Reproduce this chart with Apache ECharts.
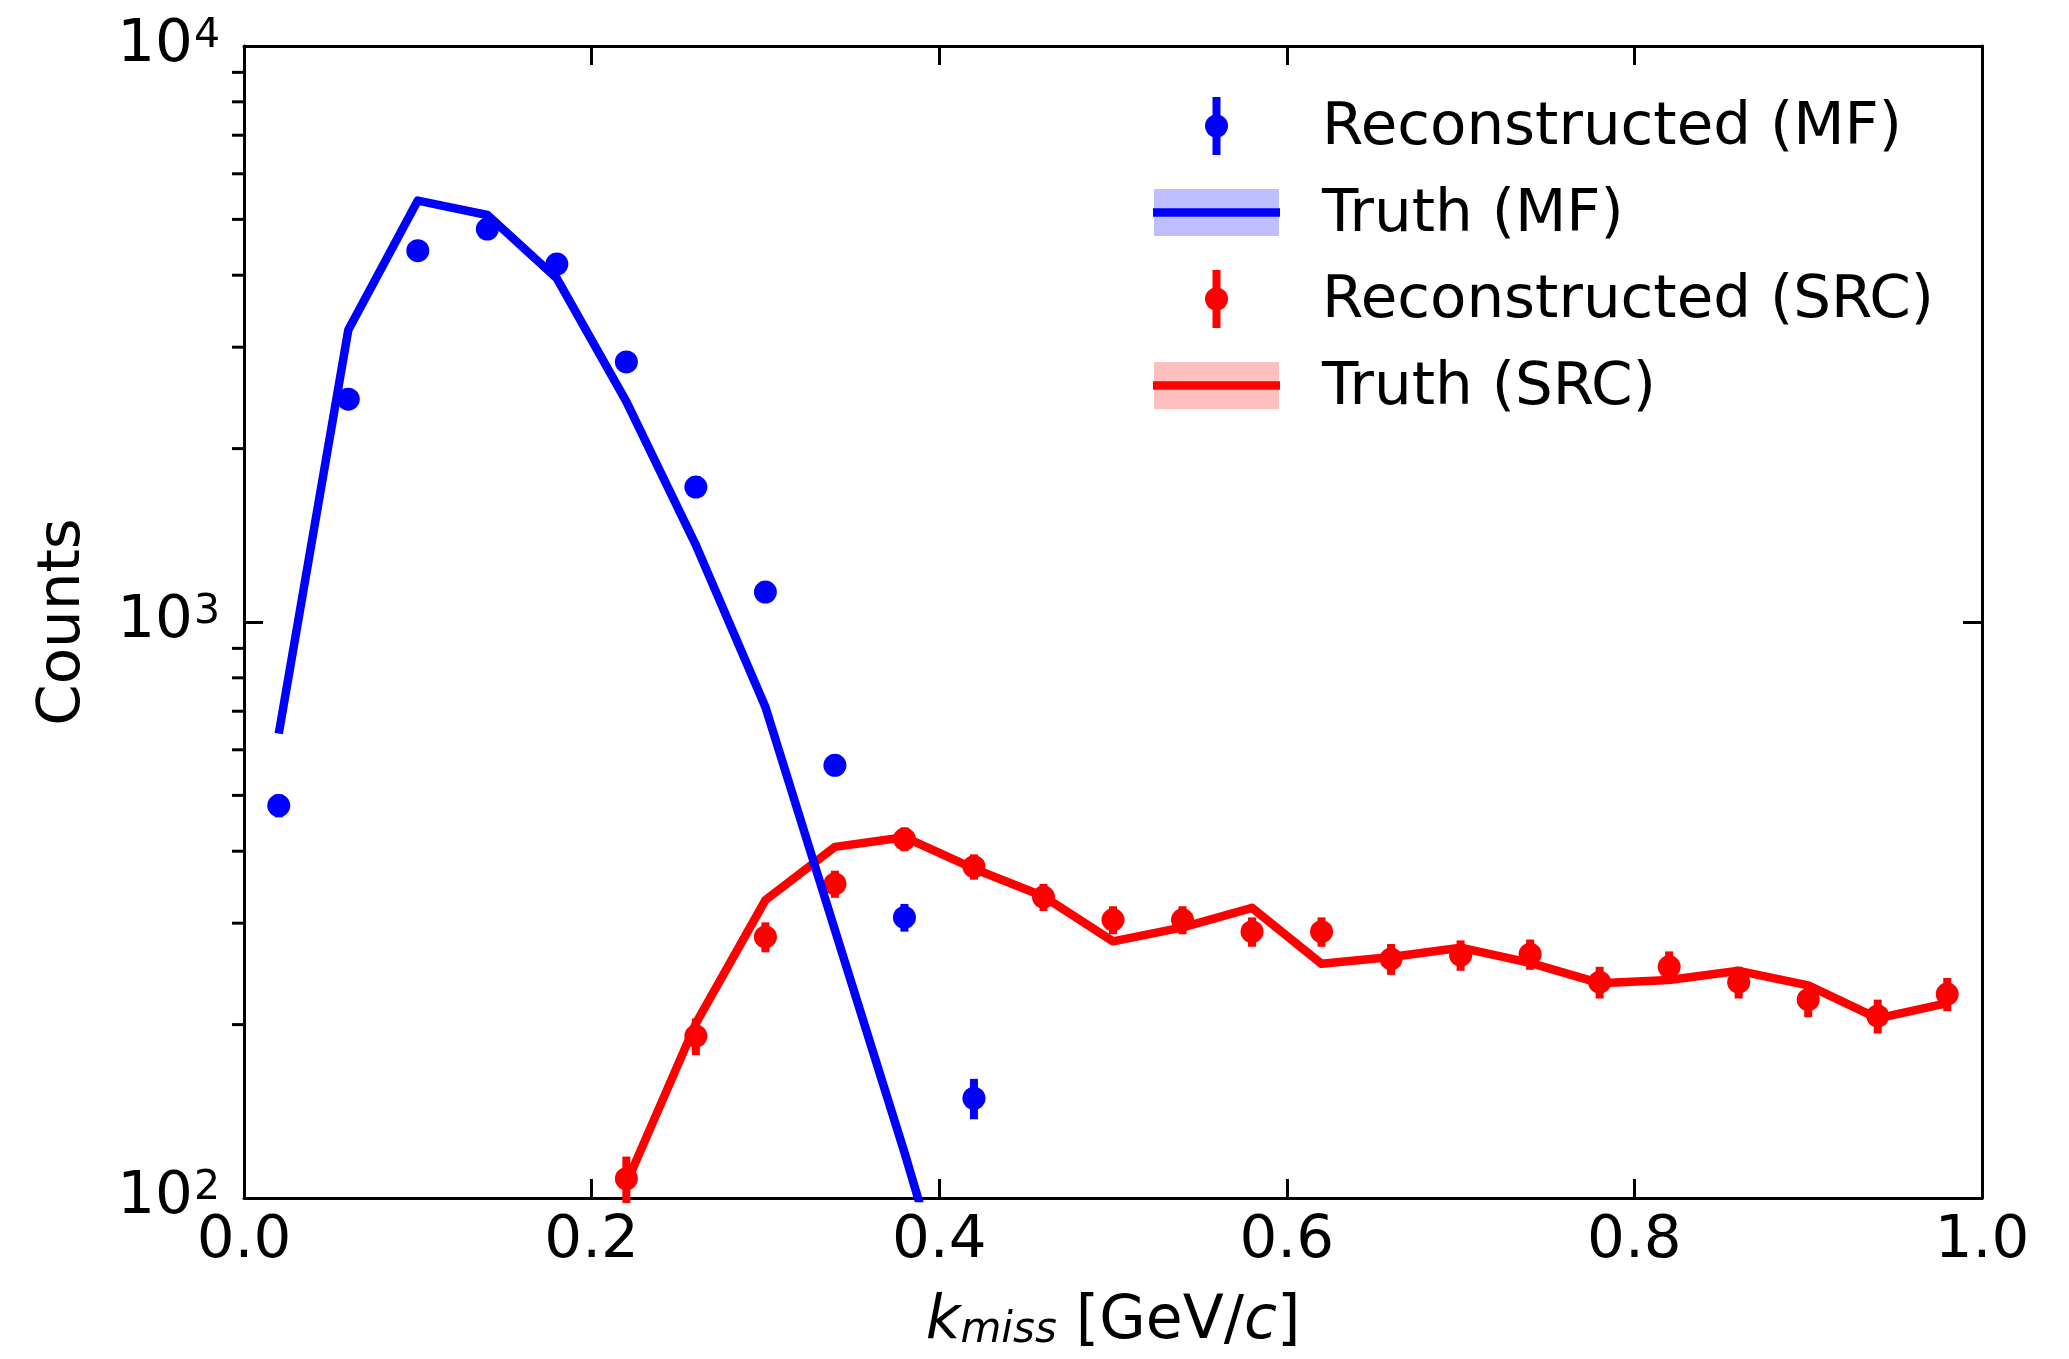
<!DOCTYPE html>
<html>
<head>
<meta charset="utf-8">
<script src="https://cdn.jsdelivr.net/npm/echarts@6/dist/echarts.min.js"></script>
<style>
html,body{margin:0;padding:0;background:#ffffff;}
#chart{width:2069px;height:1359px;}
</style>
</head>
<body>
<div id="chart"></div>
<script>
// ---- data ----
const mfX = [0.02, 0.06, 0.10, 0.14, 0.18, 0.22, 0.26, 0.30, 0.34, 0.38, 0.42];
const mfReco = [480, 2437, 4412, 4810, 4183, 2828, 1715, 1127, 564, 307, 149];
const mfRecoErr = [22, 49, 66, 69, 65, 53, 41, 34, 24, 17, 12];
const mfTruth = [640, 3213, 5390, 5089, 3951, 2413, 1360, 712, 292, 120, 47];

const srcX = [0.22, 0.26, 0.30, 0.34, 0.38, 0.42, 0.46, 0.50, 0.54, 0.58,
              0.62, 0.66, 0.70, 0.74, 0.78, 0.82, 0.86, 0.90, 0.94, 0.98];
const srcReco = [108, 191, 284, 351, 420, 376, 333, 304, 304, 290,
                 290, 260, 264, 265, 237, 252, 237, 221, 207, 226];
const srcRecoErr = [10, 14, 17, 19, 20, 19, 18, 17, 17, 17,
                    17, 16, 16, 16, 15, 16, 15, 15, 14, 15];
const srcTruth = [106, 201, 329, 407, 423, 373, 334, 279, 295, 319,
                  255, 262, 272, 256, 236, 239, 248, 234, 205, 218];

const xTicks = [0.0, 0.2, 0.4, 0.6, 0.8, 1.0];
const yMinorTicks = [200, 300, 400, 500, 600, 700, 800, 900,
                     2000, 3000, 4000, 5000, 6000, 7000, 8000, 9000];
const legendNames = ['Reconstructed (MF)', 'Truth (MF)', 'Reconstructed (SRC)', 'Truth (SRC)'];

// ---- build ----
const BLUE = '#0000ff', RED = '#ff0000';
const FONT = 'DejaVu Sans';
const FS = 59.5;
const FS_SMALL = 41;
const LW = 8.5;

const zip = (xs, ys) => xs.map((x, i) => [x, ys[i]]);
const zip3 = (xs, ys, es) => xs.map((x, i) => [x, ys[i], es[i]]);

function errRender(color) {
  return function (params, api) {
    const x = api.value(0), y = api.value(1), e = api.value(2);
    const p1 = api.coord([x, y + e]);
    const p2 = api.coord([x, y - e]);
    return {
      type: 'line',
      shape: { x1: p1[0], y1: p1[1], x2: p2[0], y2: p2[1] },
      style: { stroke: color, lineWidth: 8 }
    };
  };
}

const chart = echarts.init(document.getElementById('chart'), null, { renderer: 'canvas' });

const axisLineStyle = { show: true, onZero: false, lineStyle: { color: '#000', width: 3 } };
const majorTick = { show: true, inside: true, length: 19, lineStyle: { color: '#000', width: 3 } };

const supRich = {
  b: { fontSize: FS, fontFamily: FONT, color: '#000', lineHeight: FS, padding: [8, 0, 0, 0], verticalAlign: 'bottom' },
  s: { fontSize: FS_SMALL, fontFamily: FONT, color: '#000', lineHeight: FS_SMALL, padding: [0, 0, 0, 1], verticalAlign: 'top' }
};

// legend swatches (x positions in px)
const lgX0 = 1154, lgW = 125, rowY = [126, 212.5, 299, 385.5], lgCx = 1216.5;
const graphics = [];
[[BLUE, '#bfbfff'], [RED, '#ffbfbf']].forEach((c, k) => {
  const yE = rowY[2 * k], yT = rowY[2 * k + 1];
  graphics.push({ type: 'line', z: 100, shape: { x1: lgCx, y1: yE - 29, x2: lgCx, y2: yE + 29 }, style: { stroke: c[0], lineWidth: 8 } });
  graphics.push({ type: 'circle', z: 101, shape: { cx: lgCx, cy: yE, r: 11.5 }, style: { fill: c[0] } });
  graphics.push({ type: 'rect', z: 100, shape: { x: lgX0, y: yT - 23.5, width: lgW, height: 47 }, style: { fill: c[1] } });
  graphics.push({ type: 'line', z: 101, shape: { x1: lgX0 - 1, y1: yT, x2: lgX0 + lgW + 1, y2: yT }, style: { stroke: c[0], lineWidth: LW } });
});

const option = {
  animation: false,
  backgroundColor: '#ffffff',
  textStyle: { fontFamily: FONT },
  grid: { left: 244, top: 46, width: 1738, height: 1152, containLabel: false },
  legend: {
    orient: 'vertical', left: 1150, top: 99, padding: 0,
    itemWidth: 167, itemHeight: 60, itemGap: 26.5,
    icon: 'rect', selectedMode: false,
    itemStyle: { color: 'rgba(0,0,0,0)', borderWidth: 0, opacity: 0 },
    lineStyle: { opacity: 0, width: 0 },
    textStyle: { fontSize: FS, color: '#000', fontFamily: FONT },
    data: legendNames
  },
  graphic: graphics,
  xAxis: [
    {
      type: 'value', min: 0, max: 1, interval: 0.2, position: 'bottom',
      axisLine: axisLineStyle, axisTick: majorTick, splitLine: { show: false },
      axisLabel: { fontSize: FS, color: '#000', fontFamily: FONT, margin: 14,
        formatter: v => xTicks.find(t => Math.abs(t - v) < 1e-9).toFixed(1) },
      name: '{it|k}{sub|miss}{n| [GeV/}{it|c}{n|]}',
      nameLocation: 'middle', nameGap: 94,
      nameTextStyle: {
        color: '#000', fontFamily: FONT, fontSize: 60,
        rich: {
          it: { fontStyle: 'italic', fontSize: 60, fontFamily: FONT, color: '#000', lineHeight: 60, verticalAlign: 'top' },
          sub: { fontStyle: 'italic', fontSize: 42, fontFamily: FONT, color: '#000', lineHeight: 42, padding: [24, 0, 0, 0], verticalAlign: 'bottom' },
          n: { fontSize: 60, fontFamily: FONT, color: '#000', lineHeight: 60, verticalAlign: 'top' }
        }
      }
    },
    {
      type: 'value', min: 0, max: 1, interval: 0.2, position: 'top',
      axisLine: axisLineStyle, axisTick: majorTick, splitLine: { show: false },
      axisLabel: { show: false }
    }
  ],
  yAxis: [
    {
      type: 'log', logBase: 10, min: 100, max: 10000, position: 'left',
      axisLine: axisLineStyle, axisTick: majorTick, splitLine: { show: false },
      minorTick: { show: false }, minorSplitLine: { show: false },
      axisLabel: { margin: 24, formatter: v => '{b|10}{s|' + Math.round(Math.log10(v)) + '}', rich: supRich },
      name: 'Counts', nameLocation: 'middle', nameGap: 150, nameRotate: 90,
      nameTextStyle: { color: '#000', fontFamily: FONT, fontSize: FS }
    },
    {
      type: 'log', logBase: 10, min: 100, max: 10000, position: 'right',
      axisLine: axisLineStyle, axisTick: majorTick, splitLine: { show: false },
      axisLabel: { show: false }
    }
  ],
  series: [
    {
      name: 'Truth (SRC)', type: 'line', data: zip(srcX, srcTruth), z: 2,
      symbol: 'none', showSymbol: false, clip: true,
      lineStyle: { color: RED, width: LW, join: 'round' }, itemStyle: { color: RED }
    },
    {
      name: 'srcErr', type: 'custom', data: zip3(srcX, srcReco, srcRecoErr), z: 3,
      encode: { x: 0, y: 1 }, renderItem: errRender(RED), silent: true
    },
    {
      name: 'Reconstructed (SRC)', type: 'scatter', data: zip(srcX, srcReco), z: 3,
      symbol: 'circle', symbolSize: 23, itemStyle: { color: RED, opacity: 1 }
    },
    {
      name: 'Truth (MF)', type: 'line', data: zip(mfX, mfTruth), z: 4,
      symbol: 'none', showSymbol: false, clip: true,
      lineStyle: { color: BLUE, width: LW, join: 'round' }, itemStyle: { color: BLUE }
    },
    {
      name: 'mfErr', type: 'custom', data: zip3(mfX, mfReco, mfRecoErr), z: 5,
      encode: { x: 0, y: 1 }, renderItem: errRender(BLUE), silent: true
    },
    {
      name: 'Reconstructed (MF)', type: 'scatter', data: zip(mfX, mfReco), z: 5,
      symbol: 'circle', symbolSize: 23, itemStyle: { color: BLUE, opacity: 1 }
    },
    {
      name: 'minorTicks', type: 'custom', data: yMinorTicks.map(v => [0, v]), z: 6,
      encode: { x: 0, y: 1 }, silent: true, clip: false,
      renderItem: function (params, api) {
        const p = api.coord([api.value(0), api.value(1)]);
        return { type: 'line', shape: { x1: p[0] - 12, y1: p[1], x2: p[0], y2: p[1] },
                 style: { stroke: '#000', lineWidth: 3 } };
      }
    }
  ]
};
chart.setOption(option);
</script>
</body>
</html>
